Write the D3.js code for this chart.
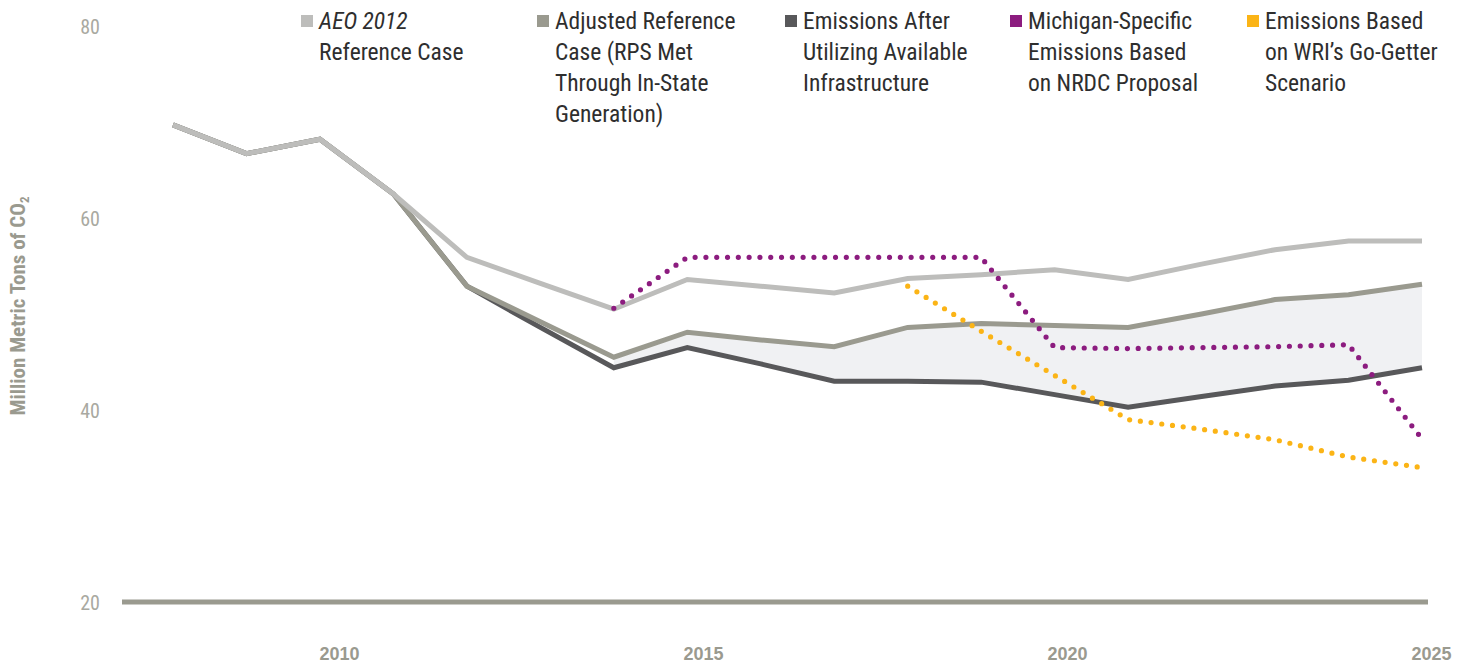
<!DOCTYPE html>
<html><head><meta charset="utf-8">
<script src="https://cdn.jsdelivr.net/npm/d3@7"></script>
<style>
body{margin:0;background:#fff}
svg{display:block}
</style>
</head><body>
<svg id="chart" width="1468" height="664"></svg>
<script>
// ---- data ----
const years = [2008,2009,2010,2011,2012,2013,2014,2015,2016,2017,2018,2019,2020,2021,2022,2023,2024,2025];
const aeoRef =        [69.7,66.7,68.2,62.5,55.9,53.2,50.5,53.6,52.9,52.2,53.7,54.1,54.6,53.6,55.2,56.7,57.6,57.6];
const adjustedRef =   [69.7,66.7,68.2,62.5,52.9,49.2,45.5,48.1,47.3,46.6,48.6,49.0,48.8,48.6,50.0,51.5,52.0,53.1];
const emissionsAfter =[69.7,66.7,68.2,62.5,52.9,48.6,44.4,46.5,44.8,43.0,43.0,42.9,41.6,40.3,41.4,42.5,43.1,44.4];
const michiganYears = [2014,2015,2016,2017,2018,2019,2020,2021,2022,2023,2024,2025];
const michiganNRDC =  [50.6,55.9,55.9,55.9,55.9,55.9,46.5,46.4,46.5,46.6,46.8,37.0];
const wriYears =      [2018,2019,2020,2021,2022,2023,2024,2025];
const wriGoGetter =   [52.9,48.2,43.6,39.0,38.0,36.9,35.1,34.0];
const yTicks = [20,40,60,80];
const xTicks = [2010,2015,2020,2025];
const yTitle = "Million Metric Tons of CO";
const legendLabels = [
  [["AEO 2012", true], ["Reference Case", false]],
  [["Adjusted Reference", false], ["Case (RPS Met", false], ["Through In-State", false], ["Generation)", false]],
  [["Emissions After", false], ["Utilizing Available", false], ["Infrastructure", false]],
  [["Michigan-Specific", false], ["Emissions Based", false], ["on NRDC Proposal", false]],
  [["Emissions Based", false], ["on WRI\u2019s Go-Getter", false], ["Scenario", false]]
];

// ---- styles / layout ----
const colors = {aeo:"#bdbdbb", adj:"#9a9a8f", emi:"#58585a", mich:"#8c1c7f", wri:"#fbb416", fill:"#f0f1f3", axis:"#9a9a8f", tick:"#a9a9a1", text:"#2e2e2e"};
const legendColors = [colors.aeo, colors.adj, colors.emi, colors.mich, colors.wri];
const legendX = [301, 537, 785, 1010, 1247];
const narrow = "'Liberation Sans Narrow','Roboto Condensed','Arial Narrow','DejaVu Sans Condensed',sans-serif";

const svg = d3.select("#chart");
const x = d3.scaleLinear().domain([2008, 2025]).range([173, 1422]);
const xLabel = d3.scaleLinear().domain([2010, 2025]).range([339, 1431]);
const y = d3.scaleLinear().domain([20, 80]).range([602, 26]);

const rows = years.map((yr, i) => ({yr, aeo: aeoRef[i], adj: adjustedRef[i], emi: emissionsAfter[i]}));

// fill between adjusted and emissions (from 2014 on)
const area = d3.area().x(d => x(d.yr)).y0(d => y(d.emi)).y1(d => y(d.adj));
svg.append("path").datum(rows.filter(d => d.yr >= 2014))
  .attr("d", area).attr("fill", colors.fill);

// baseline at 20
svg.append("line").attr("x1", 122).attr("x2", 1428).attr("y1", y(20)).attr("y2", y(20))
  .attr("stroke", colors.axis).attr("stroke-width", 5);

const line = key => d3.line().x(d => x(d.yr)).y(d => y(d[key]));
[["emi", colors.emi], ["adj", colors.adj], ["aeo", colors.aeo]].forEach(([k, c]) => {
  svg.append("path").datum(rows).attr("d", line(k)).attr("fill", "none")
    .attr("stroke", c).attr("stroke-width", 5).attr("stroke-linejoin", "miter");
});

const dotLine = d3.line().x(d => x(d[0])).y(d => y(d[1]));
function dotted(xs, vs, c) {
  svg.append("path").datum(xs.map((v, i) => [v, vs[i]])).attr("d", dotLine)
    .attr("fill", "none").attr("stroke", c).attr("stroke-width", 5.2)
    .attr("stroke-linecap", "round").attr("stroke-dasharray", "0 10.8");
}
dotted(wriYears, wriGoGetter, colors.wri);
dotted(michiganYears, michiganNRDC, colors.mich);

// y axis ticks
const yAxis = svg.append("g").attr("transform", "translate(100,0)")
  .call(d3.axisLeft(y).tickValues(yTicks).tickSize(0).tickPadding(0));
yAxis.select(".domain").remove();
yAxis.selectAll("text").attr("font-family", narrow).attr("font-size", 20)
  .attr("fill", colors.tick).attr("dy", "0.36em");

// x axis labels
const xAxis = svg.append("g").attr("transform", "translate(0,654)")
  .call(d3.axisBottom(xLabel).tickValues(xTicks).tickFormat(d3.format("d")).tickSize(0).tickPadding(0));
xAxis.select(".domain").remove();
xAxis.selectAll("text").attr("font-family", "'Liberation Sans',Arial,sans-serif").attr("font-weight", "bold")
  .attr("font-size", 18).attr("fill", colors.axis).attr("dy", "0.36em");

// y title
const yt = svg.append("text").attr("transform", "translate(25,306) rotate(-90)")
  .attr("text-anchor", "middle").attr("font-family", narrow).attr("font-weight", "bold")
  .attr("font-size", 21).attr("fill", colors.axis);
yt.append("tspan").text(yTitle);
yt.append("tspan").attr("font-size", 13).attr("dy", 4).text("2");

// legend
legendLabels.forEach((lines, i) => {
  const g = svg.append("g").attr("transform", `translate(${legendX[i]},0)`);
  g.append("rect").attr("x", 0).attr("y", 15).attr("width", 12).attr("height", 12).attr("fill", legendColors[i]);
  lines.forEach(([t, it], j) => {
    g.append("text").attr("x", 18).attr("y", 29 + j * 31).text(t)
      .attr("font-family", narrow).attr("font-size", 23.5).attr("fill", colors.text)
      .attr("font-style", it ? "italic" : "normal");
  });
});
</script>
</body></html>
